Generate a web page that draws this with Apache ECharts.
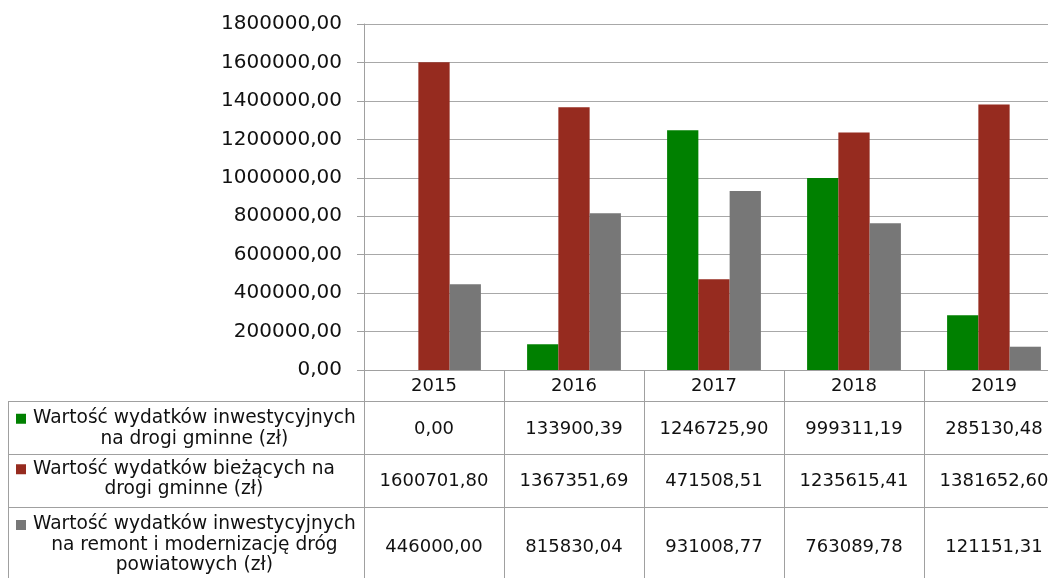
<!DOCTYPE html>
<html>
<head>
<meta charset="utf-8">
<script src="https://cdn.jsdelivr.net/npm/echarts@6/dist/echarts.min.js"></script>
<style>
  html, body { margin: 0; padding: 0; width: 1048px; height: 578px; overflow: hidden; background: #fff; }
  #main { width: 1100px; height: 578px; }
</style>
</head>
<body>
<div id="main"></div>
<script>
// dane
const categories = ['2015', '2016', '2017', '2018', '2019'];
const inwestGminne = [0.00, 133900.39, 1246725.90, 999311.19, 285130.48];
const biezaceGminne = [1600701.80, 1367351.69, 471508.51, 1235615.41, 1381652.60];
const inwestPowiat = [446000.00, 815830.04, 931008.77, 763089.78, 121151.31];
const seriesNames = [
  'Wartość wydatków inwestycyjnych\nna drogi gminne (zł)',
  'Wartość wydatków bieżących na\ndrogi gminne (zł)',
  'Wartość wydatków inwestycyjnych\nna remont i modernizację dróg\npowiatowych (zł)'
];
const yMin = 0, yMax = 1800000, yStep = 200000;

const colors = ['#008000', '#962b1f', '#777777'];
const FONT = '"DejaVu Sans", Verdana, sans-serif';
const lineColor = '#a0a0a0';

const chart = echarts.init(document.getElementById('main'), null, { renderer: 'canvas' });

function fmt(v) {
  return v.toFixed(2).replace('.', ',');
}

const allData = [inwestGminne, biezaceGminne, inwestPowiat];

chart.setOption({
  animation: false,
  backgroundColor: '#fff',
  grid: { left: 364, right: 36, top: 24, bottom: 208 },
  xAxis: {
    type: 'category',
    data: categories,
    axisLine: { lineStyle: { color: lineColor, width: 1 } },
    axisTick: { show: true, interval: 0, length: 31, lineStyle: { color: lineColor } },
    axisLabel: { fontSize: 18, fontFamily: FONT, color: '#111', margin: 7 }
  },
  yAxis: {
    type: 'value',
    min: yMin,
    max: yMax,
    interval: yStep,
    axisLine: { show: true, lineStyle: { color: lineColor } },
    axisTick: { show: true, length: 7, lineStyle: { color: lineColor } },
    splitLine: { lineStyle: { color: '#a8a8a8', width: 1 } },
    axisLabel: {
      fontSize: 20, fontFamily: FONT, color: '#111', margin: 22,
      formatter: v => fmt(v)
    }
  },
  series: allData.map((d, i) => ({
    type: 'bar',
    name: seriesNames[i],
    data: d,
    barGap: '0%',
    barCategoryGap: '33%',
    itemStyle: { color: colors[i] }
  }))
});

// tabela danych pod wykresem
const c0 = chart.convertToPixel({ xAxisIndex: 0 }, 0);
const c1 = chart.convertToPixel({ xAxisIndex: 0 }, 1);
const band = c1 - c0;
const yZero = chart.convertToPixel({ yAxisIndex: 0 }, 0);
const rowLines = [401, 454, 507];
const tableBottom = 620;
const tableLeft = 8;
const rowCenters = [428.5, 479, 545];
const valueCenters = [429, 481.5, 547.5];
const lh = 20.5;
const labelFont = '18.6px ' + FONT;

const ctx = document.createElement('canvas').getContext('2d');
ctx.font = labelFont;

const graphic = [];
const px = v => Math.round(v) + 0.5;
const tableRight = c0 - band / 2 + band * categories.length;

rowLines.forEach(y => {
  graphic.push({
    type: 'line',
    shape: { x1: tableLeft, y1: px(y), x2: tableRight, y2: px(y) },
    style: { stroke: lineColor, lineWidth: 1 }
  });
});
graphic.push({
  type: 'line',
  shape: { x1: px(tableLeft), y1: rowLines[0], x2: px(tableLeft), y2: tableBottom },
  style: { stroke: lineColor, lineWidth: 1 }
});
for (let i = 0; i <= categories.length; i++) {
  const bx = c0 - band / 2 + i * band;
  graphic.push({
    type: 'line',
    shape: { x1: px(bx), y1: i === 0 ? yZero : rowLines[0], x2: px(bx), y2: tableBottom },
    style: { stroke: lineColor, lineWidth: 1 }
  });
}

seriesNames.forEach((name, r) => {
  const lines = name.split('\n');
  const w = Math.max(...lines.map(l => ctx.measureText(l).width));
  const textLeft = 33;
  graphic.push({
    type: 'text',
    style: {
      text: name, x: textLeft + w / 2, y: rowCenters[r],
      font: labelFont, fill: '#111',
      align: 'center', verticalAlign: 'middle', lineHeight: lh
    }
  });
  const mk = rowCenters[r] - lh * (lines.length - 1) / 2 + 0.5;
  graphic.push({
    type: 'rect',
    shape: { x: 16, y: mk - 5, width: 10, height: 10 },
    style: { fill: colors[r] }
  });
  allData[r].forEach((v, i) => {
    graphic.push({
      type: 'text',
      style: {
        text: fmt(v), x: c0 + i * band, y: valueCenters[r],
        font: '18px ' + FONT, fill: '#111',
        align: 'center', verticalAlign: 'middle'
      }
    });
  });
});

chart.setOption({ graphic: graphic });
</script>
</body>
</html>
